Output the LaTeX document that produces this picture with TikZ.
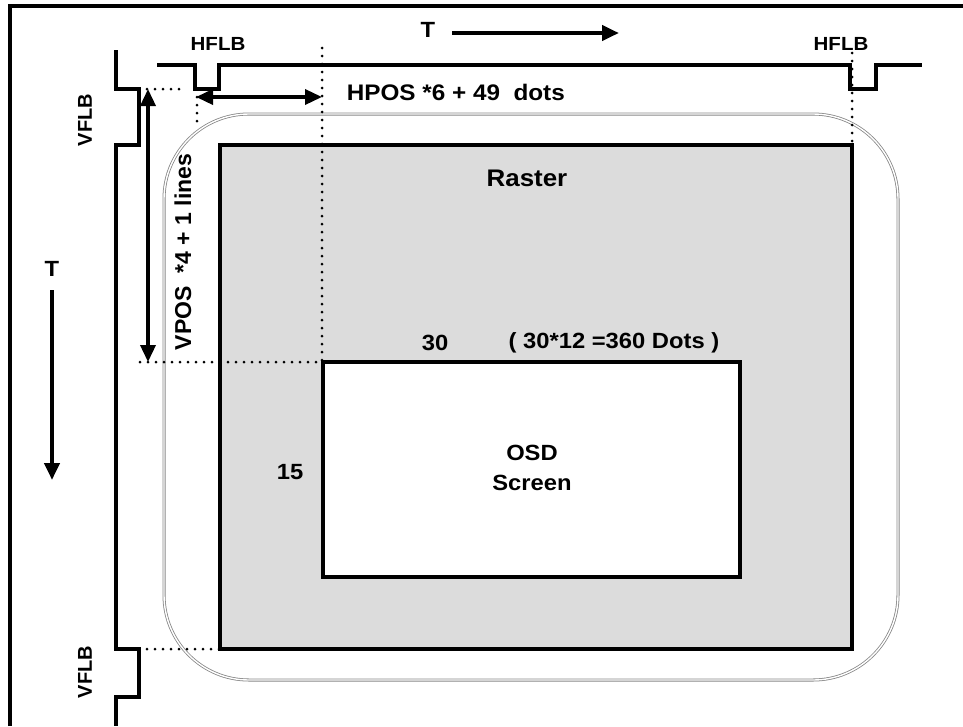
\documentclass[tikz,border=0pt]{standalone}
\usepackage{fontspec}
\setmainfont{Liberation Sans}
\newfontfamily\widefont[FakeStretch=1.08]{Liberation Sans}
\usetikzlibrary{arrows.meta}
\definecolor{rastergray}{RGB}{220,220,220}
\definecolor{tubegray}{RGB}{135,135,135}
\begin{document}
\begin{tikzpicture}[x=1pt,y=-1pt,>={Triangle[length=17pt,width=15pt]},line width=3.5pt,
  font=\widefont\fontsize{22}{30}\selectfont\bfseries,
  dots/.style={line width=3pt,line cap=round,dash pattern=on 0pt off 8pt},
  small/.style={font=\widefont\fontsize{19}{24}\selectfont\bfseries},
  upright/.style={rotate=90,font=\fontsize{#1}{24}\selectfont\bfseries},
  every node/.style={inner sep=0pt}]
\useasboundingbox (0,0) rectangle (963,726);
% frame and tube
\draw (10,726)--(10,6)--(963,6);
\draw[rounded corners=85pt,draw=tubegray,line width=0.8pt,double=white,double distance=1.4pt]
  (164,114) rectangle (898,680);
\draw[fill=rastergray] (220,145) rectangle (852,649);
\draw[fill=white] (323,362) rectangle (740,577);

% sync waveforms
\draw (157,65)-|(195,89)-|(219,65)-|(850,89)-|(876,65)--(922,65);
\draw (116,50)|-(139,89)|-(116,145)|-(139,649)|-(116,697)--(116,726);

\draw[dots](123,89)--(182,89);
\draw[dots](197,89)--(197,122);
\draw[dots](322,48)--(322,362);
\draw[dots](140,362)--(322,362);
\draw[dots](852,53)--(852,145);
\draw[dots](123,649)--(220,649);

\node[small](hflbL) at (218,44){HFLB};
\node[small](hflbR) at (841,44){HFLB};
\node[upright=20](vflbT) at (85,120){VFLB};
\node[upright=20](vflbB) at (85,672){VFLB};
\node[](tTop) at (428,30){T};
\node[](tLeft) at (52,269){T};
\node[anchor=west,font=\widefont\fontsize{22.5}{28}\selectfont\bfseries](hpos) at (345,92){HPOS *6 + 49~~dots};
\node[upright=23](vpos) at (183,252){VPOS~~*4 + 1 lines};
\node[font=\widefont\fontsize{24}{28}\selectfont\bfseries](raster) at (527,178){Raster};
\node[](cols) at (435,343){30};
\node[](colDots) at (614,343){( 30*12 =360 Dots )};
\node[](rows) at (290,472){15};
\node[align=center](osd) at (532,468){OSD\\Screen};

\coordinate (tA) at (452,33);
\coordinate (tB) at (619,33);
\coordinate (tC) at (52,290);
\coordinate (tD) at (52,480);
\coordinate (hA) at (196,97);
\coordinate (hB) at (322,97);
\coordinate (vA) at (148,89);
\coordinate (vB) at (148,362);

\draw[->,line width=4.5pt](tA)--(tB);
\draw[->,line width=4.5pt](tC)--(tD);
\draw[<->](hA)--(hB);
\draw[<->](vA)--(vB);
\end{tikzpicture}
\end{document}
